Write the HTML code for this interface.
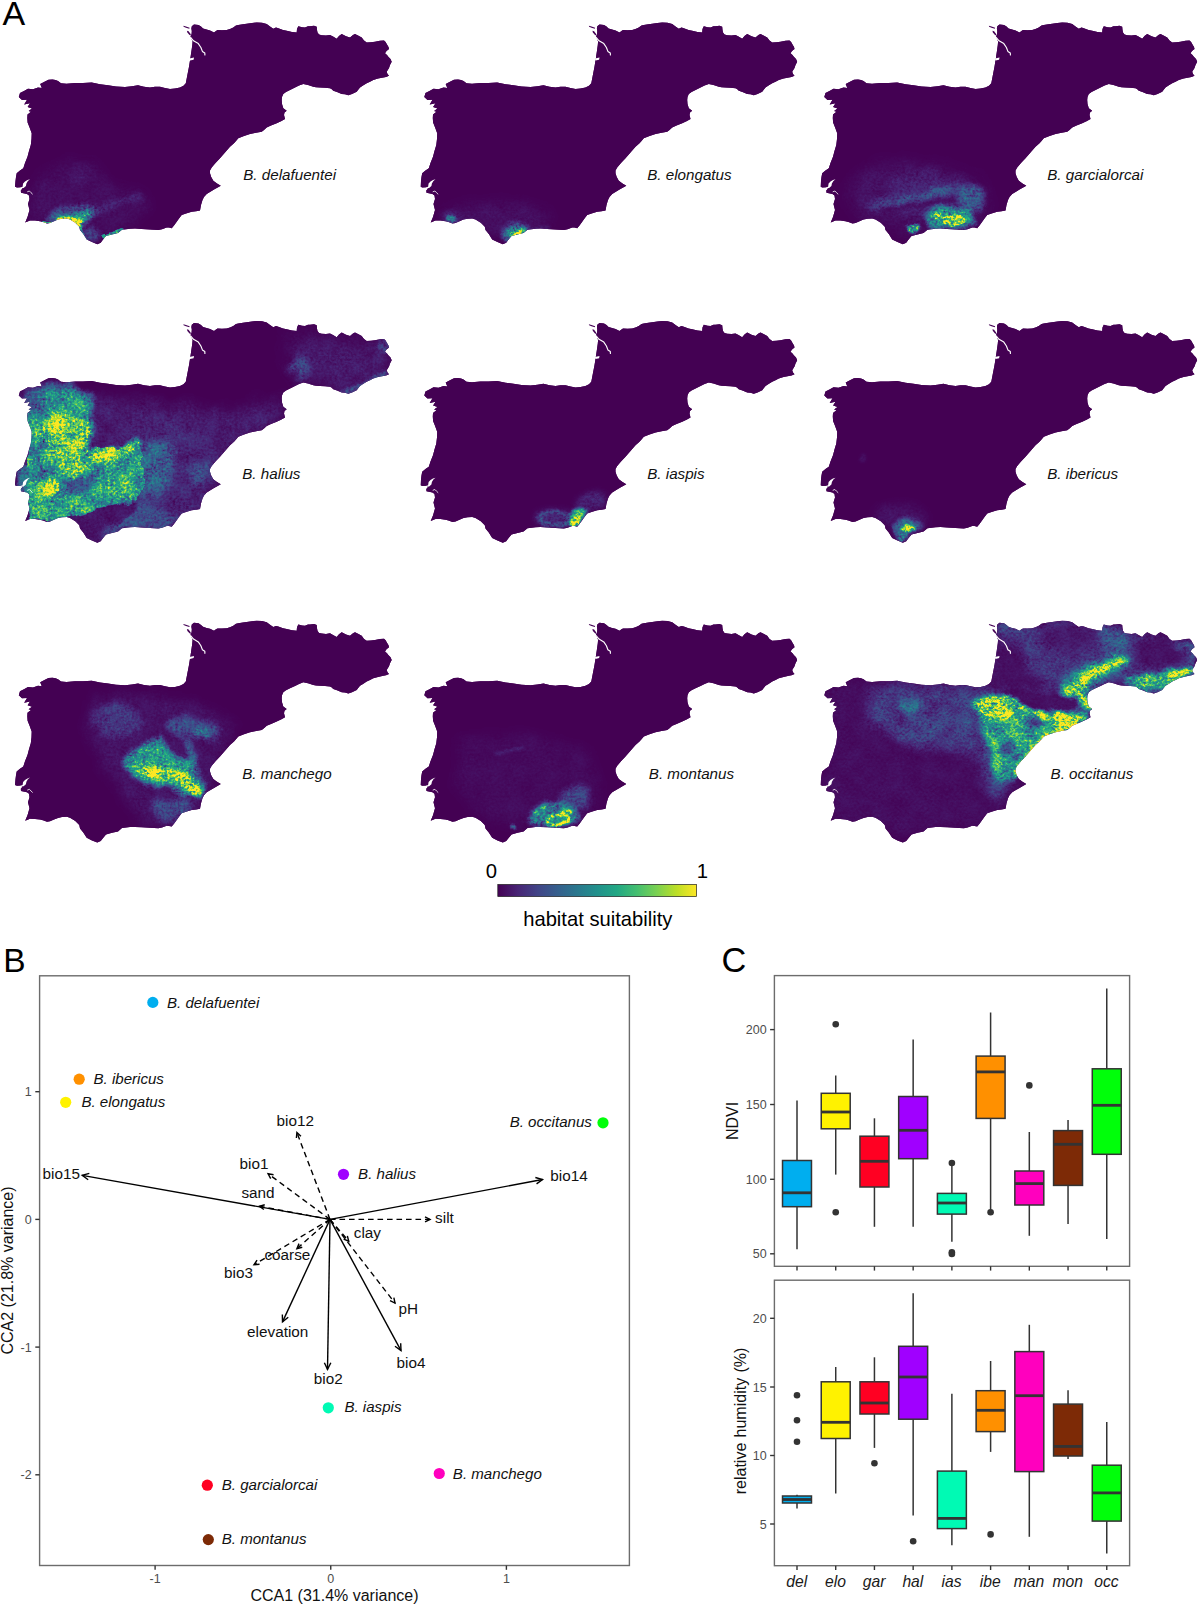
<!DOCTYPE html>
<html lang="en"><head><meta charset="utf-8"><title>Figure: habitat suitability, CCA and boxplots</title>
<style>html,body{margin:0;padding:0;background:#fff}svg{display:block}text{font-family:"Liberation Sans", Arial, Helvetica, sans-serif}</style>
</head><body>
<svg width="1200" height="1606" viewBox="0 0 1200 1606">
<rect width="1200" height="1606" fill="#fff"/>
<defs>
<clipPath id="ib"><polygon points="191.4,28.4 191.8,26.2 194,24.5 198.5,25 201,26.6 203,28.5 206.5,29.6 210,30.5 214,32.4 216,31 217.5,30.1 222,30.2 226.7,30 230,29 233.3,27.5 236,25.4 238.3,25 243,24.2 246.7,23.7 252,23 256.7,22.5 262,22.8 266.7,24 270,26.5 273.3,28.7 276,27.6 278.3,28.3 283,30 286.7,30.8 292,32 296.7,32.5 297,29 298.3,26.3 302,27.3 305,27.5 308,26.2 310,26.3 314,25.8 316.7,26.7 317,30 317.5,32.5 319,34.6 321.7,35.3 326,35.6 330,35 333,36.6 336.7,38.7 339,36 341.7,34 346,36.2 350,37.5 353,35 355,34 358,35.4 361.7,37.5 364,40.6 366.7,42.5 371,42.3 375,41.7 380,40.8 384,40.5 385.6,42 386.7,44 388.5,47 389,49 386.5,51 385,53.3 387,55 388.3,56.7 390.5,59 391.7,61.7 390,65 389,68 386.7,71.7 387.5,74 389,75.8 386,77 383.3,77.5 378,78.6 373.3,80 370,81.8 366.7,83.3 363,85.6 360,87.5 358,90 356.7,91.7 352,94 348.3,95.3 345,94.2 341.7,94 337,92 333.3,90.8 331.5,89 330,88.3 325,87.7 320,87.5 316,87.3 313.3,86.7 308,85 303.3,84 299,85.6 295,87.6 290,90 286,92 283.3,94 282,97 281.7,100 282,104 283.3,108.3 286.7,110.8 284.5,112.5 284,115 285,119 281,121.3 276.7,123.3 271,125.6 266.7,127.5 264,130 261.7,131.7 256,132.8 250,134 244,136 238.3,138.3 236,141 234,143.3 232,145 230,146.7 225,152.5 220,158.3 215.5,163 211.7,167.5 210,170.5 210,173.3 211.2,177 213.3,180.8 217,183.5 220.8,185.8 214,189.6 206.7,194 204,197 202.5,200 201,205 200,210.5 196,211.3 191.7,211.7 186,213.5 181.7,215 179,218.5 176.7,221.7 174,225.5 171.7,228.3 169,227.6 166.7,227.5 162,229.2 158.3,230 150,229.4 141.7,229 135,228.6 130,228.7 122,229.7 118,233.1 112,234.4 106,236.1 102.7,240.1 100.7,242.7 97.3,244.2 92,242.1 86.7,239.4 83.3,234.1 80,230.1 79.3,226.7 75.3,222.7 70,219.4 66.7,218.4 62,218.8 58,219.6 54,221.2 50,223 47,223.5 43,222 40,221.2 35,220.6 30,220.5 25.2,222.5 27.5,217 29.5,210 28.5,206 28,204 29.5,199 29,195.5 27,194 21,192.8 20.8,190.5 22.5,188.5 21,187.3 17,187.5 15,186.7 15.5,181 16,177 16.7,173.3 20,170.5 23.3,168.3 25,163 27.5,156.7 29,151 30.8,145 31.5,139 31.7,133.3 29.6,127.5 27.6,122.5 27.3,118 27.5,114.5 31,111.8 28.6,111 32,108.4 27.6,107 30,103.3 24.2,104.4 27,99.8 22,100 18.8,97 20,93 24,91 28,88.8 33,89.2 38,87.5 41.8,88 40.2,84 45,81.5 48.5,79.8 52.5,79.5 55.5,80 58,81 61,83.3 66.5,83.8 75,83 83,82.9 91.7,82.5 100,84.2 108,85.3 116,86.5 125,87 132,86.3 138,85.3 144,86.8 150,87.5 155,86.8 160,86.7 165,88 170,89 175,88.6 180,87.5 183.5,85.8 185.8,83.3 187.2,76 189,66.7 190.4,58 191.6,50 192.3,45 192.6,41.5 191.4,38.6 190.4,37 191.6,34 191.8,31"/></clipPath>
<filter id="b0_6" filterUnits="userSpaceOnUse" x="-20" y="-20" width="440" height="300" color-interpolation-filters="sRGB"><feGaussianBlur stdDeviation="0.6"/></filter>
<filter id="b0_8" filterUnits="userSpaceOnUse" x="-20" y="-20" width="440" height="300" color-interpolation-filters="sRGB"><feGaussianBlur stdDeviation="0.8"/></filter>
<filter id="b0_9" filterUnits="userSpaceOnUse" x="-20" y="-20" width="440" height="300" color-interpolation-filters="sRGB"><feGaussianBlur stdDeviation="0.9"/></filter>
<filter id="b1" filterUnits="userSpaceOnUse" x="-20" y="-20" width="440" height="300" color-interpolation-filters="sRGB"><feGaussianBlur stdDeviation="1"/></filter>
<filter id="b1_2" filterUnits="userSpaceOnUse" x="-20" y="-20" width="440" height="300" color-interpolation-filters="sRGB"><feGaussianBlur stdDeviation="1.2"/></filter>
<filter id="b1_3" filterUnits="userSpaceOnUse" x="-20" y="-20" width="440" height="300" color-interpolation-filters="sRGB"><feGaussianBlur stdDeviation="1.3"/></filter>
<filter id="b1_5" filterUnits="userSpaceOnUse" x="-20" y="-20" width="440" height="300" color-interpolation-filters="sRGB"><feGaussianBlur stdDeviation="1.5"/></filter>
<filter id="b1_6" filterUnits="userSpaceOnUse" x="-20" y="-20" width="440" height="300" color-interpolation-filters="sRGB"><feGaussianBlur stdDeviation="1.6"/></filter>
<filter id="b1_8" filterUnits="userSpaceOnUse" x="-20" y="-20" width="440" height="300" color-interpolation-filters="sRGB"><feGaussianBlur stdDeviation="1.8"/></filter>
<filter id="b2" filterUnits="userSpaceOnUse" x="-20" y="-20" width="440" height="300" color-interpolation-filters="sRGB"><feGaussianBlur stdDeviation="2"/></filter>
<filter id="b2_5" filterUnits="userSpaceOnUse" x="-20" y="-20" width="440" height="300" color-interpolation-filters="sRGB"><feGaussianBlur stdDeviation="2.5"/></filter>
<filter id="b3" filterUnits="userSpaceOnUse" x="-20" y="-20" width="440" height="300" color-interpolation-filters="sRGB"><feGaussianBlur stdDeviation="3"/></filter>
<filter id="b4" filterUnits="userSpaceOnUse" x="-20" y="-20" width="440" height="300" color-interpolation-filters="sRGB"><feGaussianBlur stdDeviation="4"/></filter>
<filter id="b5" filterUnits="userSpaceOnUse" x="-20" y="-20" width="440" height="300" color-interpolation-filters="sRGB"><feGaussianBlur stdDeviation="5"/></filter>
<filter id="b6" filterUnits="userSpaceOnUse" x="-20" y="-20" width="440" height="300" color-interpolation-filters="sRGB"><feGaussianBlur stdDeviation="6"/></filter>
<filter id="b8" filterUnits="userSpaceOnUse" x="-20" y="-20" width="440" height="300" color-interpolation-filters="sRGB"><feGaussianBlur stdDeviation="8"/></filter>
<filter id="hf0" filterUnits="userSpaceOnUse" x="0" y="0" width="400" height="260" color-interpolation-filters="sRGB">
<feGaussianBlur in="SourceGraphic" stdDeviation="0.4" result="g0"/>
<feTurbulence type="fractalNoise" baseFrequency="0.045" numOctaves="3" seed="10" result="td"/>
<feDisplacementMap in="g0" in2="td" scale="5" xChannelSelector="R" yChannelSelector="G" result="g"/>
<feTurbulence type="fractalNoise" baseFrequency="0.06" numOctaves="3" seed="3" result="t1"/>
<feTurbulence type="fractalNoise" baseFrequency="0.37 0.43" numOctaves="2" seed="53" result="t2"/>
<feComposite in="t1" in2="t2" operator="arithmetic" k1="0" k2="0.45" k3="0.55" k4="0" result="t"/>
<feColorMatrix in="t" type="matrix" values="1 0 0 0 0  1 0 0 0 0  1 0 0 0 0  0 0 0 0 1" result="n"/>
<feComposite in="g" in2="n" operator="arithmetic" k1="3" k2="-0.5" k3="0" k4="0" result="m"/>
<feComponentTransfer in="m"><feFuncR type="table" tableValues="0.267 0.282 0.255 0.208 0.165 0.129 0.133 0.267 0.478 0.741 0.992"/><feFuncG type="table" tableValues="0.004 0.141 0.267 0.373 0.471 0.569 0.659 0.749 0.820 0.875 0.906"/><feFuncB type="table" tableValues="0.329 0.459 0.529 0.553 0.557 0.549 0.518 0.439 0.318 0.149 0.145"/></feComponentTransfer>
</filter>
<filter id="hf1" filterUnits="userSpaceOnUse" x="0" y="0" width="400" height="260" color-interpolation-filters="sRGB">
<feGaussianBlur in="SourceGraphic" stdDeviation="0.4" result="g0"/>
<feTurbulence type="fractalNoise" baseFrequency="0.045" numOctaves="3" seed="12" result="td"/>
<feDisplacementMap in="g0" in2="td" scale="5" xChannelSelector="R" yChannelSelector="G" result="g"/>
<feTurbulence type="fractalNoise" baseFrequency="0.06" numOctaves="3" seed="5" result="t1"/>
<feTurbulence type="fractalNoise" baseFrequency="0.37 0.43" numOctaves="2" seed="55" result="t2"/>
<feComposite in="t1" in2="t2" operator="arithmetic" k1="0" k2="0.45" k3="0.55" k4="0" result="t"/>
<feColorMatrix in="t" type="matrix" values="1 0 0 0 0  1 0 0 0 0  1 0 0 0 0  0 0 0 0 1" result="n"/>
<feComposite in="g" in2="n" operator="arithmetic" k1="3" k2="-0.5" k3="0" k4="0" result="m"/>
<feComponentTransfer in="m"><feFuncR type="table" tableValues="0.267 0.282 0.255 0.208 0.165 0.129 0.133 0.267 0.478 0.741 0.992"/><feFuncG type="table" tableValues="0.004 0.141 0.267 0.373 0.471 0.569 0.659 0.749 0.820 0.875 0.906"/><feFuncB type="table" tableValues="0.329 0.459 0.529 0.553 0.557 0.549 0.518 0.439 0.318 0.149 0.145"/></feComponentTransfer>
</filter>
<filter id="hf2" filterUnits="userSpaceOnUse" x="0" y="0" width="400" height="260" color-interpolation-filters="sRGB">
<feGaussianBlur in="SourceGraphic" stdDeviation="0.4" result="g0"/>
<feTurbulence type="fractalNoise" baseFrequency="0.045" numOctaves="3" seed="14" result="td"/>
<feDisplacementMap in="g0" in2="td" scale="9" xChannelSelector="R" yChannelSelector="G" result="g"/>
<feTurbulence type="fractalNoise" baseFrequency="0.06" numOctaves="3" seed="7" result="t1"/>
<feTurbulence type="fractalNoise" baseFrequency="0.37 0.43" numOctaves="2" seed="57" result="t2"/>
<feComposite in="t1" in2="t2" operator="arithmetic" k1="0" k2="0.45" k3="0.55" k4="0" result="t"/>
<feColorMatrix in="t" type="matrix" values="1 0 0 0 0  1 0 0 0 0  1 0 0 0 0  0 0 0 0 1" result="n"/>
<feComposite in="g" in2="n" operator="arithmetic" k1="3" k2="-0.5" k3="0" k4="0" result="m"/>
<feComponentTransfer in="m"><feFuncR type="table" tableValues="0.267 0.282 0.255 0.208 0.165 0.129 0.133 0.267 0.478 0.741 0.992"/><feFuncG type="table" tableValues="0.004 0.141 0.267 0.373 0.471 0.569 0.659 0.749 0.820 0.875 0.906"/><feFuncB type="table" tableValues="0.329 0.459 0.529 0.553 0.557 0.549 0.518 0.439 0.318 0.149 0.145"/></feComponentTransfer>
</filter>
<filter id="hf3" filterUnits="userSpaceOnUse" x="0" y="0" width="400" height="260" color-interpolation-filters="sRGB">
<feGaussianBlur in="SourceGraphic" stdDeviation="0.4" result="g0"/>
<feTurbulence type="fractalNoise" baseFrequency="0.045" numOctaves="3" seed="18" result="td"/>
<feDisplacementMap in="g0" in2="td" scale="14" xChannelSelector="R" yChannelSelector="G" result="g"/>
<feTurbulence type="fractalNoise" baseFrequency="0.06" numOctaves="3" seed="11" result="t1"/>
<feTurbulence type="fractalNoise" baseFrequency="0.37 0.43" numOctaves="2" seed="61" result="t2"/>
<feComposite in="t1" in2="t2" operator="arithmetic" k1="0" k2="0.45" k3="0.55" k4="0" result="t"/>
<feColorMatrix in="t" type="matrix" values="1 0 0 0 0  1 0 0 0 0  1 0 0 0 0  0 0 0 0 1" result="n"/>
<feComposite in="g" in2="n" operator="arithmetic" k1="3" k2="-0.5" k3="0" k4="0" result="m"/>
<feComponentTransfer in="m"><feFuncR type="table" tableValues="0.267 0.282 0.255 0.208 0.165 0.129 0.133 0.267 0.478 0.741 0.992"/><feFuncG type="table" tableValues="0.004 0.141 0.267 0.373 0.471 0.569 0.659 0.749 0.820 0.875 0.906"/><feFuncB type="table" tableValues="0.329 0.459 0.529 0.553 0.557 0.549 0.518 0.439 0.318 0.149 0.145"/></feComponentTransfer>
</filter>
<filter id="hf4" filterUnits="userSpaceOnUse" x="0" y="0" width="400" height="260" color-interpolation-filters="sRGB">
<feGaussianBlur in="SourceGraphic" stdDeviation="0.4" result="g0"/>
<feTurbulence type="fractalNoise" baseFrequency="0.045" numOctaves="3" seed="20" result="td"/>
<feDisplacementMap in="g0" in2="td" scale="4" xChannelSelector="R" yChannelSelector="G" result="g"/>
<feTurbulence type="fractalNoise" baseFrequency="0.06" numOctaves="3" seed="13" result="t1"/>
<feTurbulence type="fractalNoise" baseFrequency="0.37 0.43" numOctaves="2" seed="63" result="t2"/>
<feComposite in="t1" in2="t2" operator="arithmetic" k1="0" k2="0.45" k3="0.55" k4="0" result="t"/>
<feColorMatrix in="t" type="matrix" values="1 0 0 0 0  1 0 0 0 0  1 0 0 0 0  0 0 0 0 1" result="n"/>
<feComposite in="g" in2="n" operator="arithmetic" k1="3" k2="-0.5" k3="0" k4="0" result="m"/>
<feComponentTransfer in="m"><feFuncR type="table" tableValues="0.267 0.282 0.255 0.208 0.165 0.129 0.133 0.267 0.478 0.741 0.992"/><feFuncG type="table" tableValues="0.004 0.141 0.267 0.373 0.471 0.569 0.659 0.749 0.820 0.875 0.906"/><feFuncB type="table" tableValues="0.329 0.459 0.529 0.553 0.557 0.549 0.518 0.439 0.318 0.149 0.145"/></feComponentTransfer>
</filter>
<filter id="hf5" filterUnits="userSpaceOnUse" x="0" y="0" width="400" height="260" color-interpolation-filters="sRGB">
<feGaussianBlur in="SourceGraphic" stdDeviation="0.4" result="g0"/>
<feTurbulence type="fractalNoise" baseFrequency="0.045" numOctaves="3" seed="24" result="td"/>
<feDisplacementMap in="g0" in2="td" scale="4" xChannelSelector="R" yChannelSelector="G" result="g"/>
<feTurbulence type="fractalNoise" baseFrequency="0.06" numOctaves="3" seed="17" result="t1"/>
<feTurbulence type="fractalNoise" baseFrequency="0.37 0.43" numOctaves="2" seed="67" result="t2"/>
<feComposite in="t1" in2="t2" operator="arithmetic" k1="0" k2="0.45" k3="0.55" k4="0" result="t"/>
<feColorMatrix in="t" type="matrix" values="1 0 0 0 0  1 0 0 0 0  1 0 0 0 0  0 0 0 0 1" result="n"/>
<feComposite in="g" in2="n" operator="arithmetic" k1="3" k2="-0.5" k3="0" k4="0" result="m"/>
<feComponentTransfer in="m"><feFuncR type="table" tableValues="0.267 0.282 0.255 0.208 0.165 0.129 0.133 0.267 0.478 0.741 0.992"/><feFuncG type="table" tableValues="0.004 0.141 0.267 0.373 0.471 0.569 0.659 0.749 0.820 0.875 0.906"/><feFuncB type="table" tableValues="0.329 0.459 0.529 0.553 0.557 0.549 0.518 0.439 0.318 0.149 0.145"/></feComponentTransfer>
</filter>
<filter id="hf6" filterUnits="userSpaceOnUse" x="0" y="0" width="400" height="260" color-interpolation-filters="sRGB">
<feGaussianBlur in="SourceGraphic" stdDeviation="0.4" result="g0"/>
<feTurbulence type="fractalNoise" baseFrequency="0.045" numOctaves="3" seed="26" result="td"/>
<feDisplacementMap in="g0" in2="td" scale="12" xChannelSelector="R" yChannelSelector="G" result="g"/>
<feTurbulence type="fractalNoise" baseFrequency="0.06" numOctaves="3" seed="19" result="t1"/>
<feTurbulence type="fractalNoise" baseFrequency="0.37 0.43" numOctaves="2" seed="69" result="t2"/>
<feComposite in="t1" in2="t2" operator="arithmetic" k1="0" k2="0.45" k3="0.55" k4="0" result="t"/>
<feColorMatrix in="t" type="matrix" values="1 0 0 0 0  1 0 0 0 0  1 0 0 0 0  0 0 0 0 1" result="n"/>
<feComposite in="g" in2="n" operator="arithmetic" k1="3" k2="-0.5" k3="0" k4="0" result="m"/>
<feComponentTransfer in="m"><feFuncR type="table" tableValues="0.267 0.282 0.255 0.208 0.165 0.129 0.133 0.267 0.478 0.741 0.992"/><feFuncG type="table" tableValues="0.004 0.141 0.267 0.373 0.471 0.569 0.659 0.749 0.820 0.875 0.906"/><feFuncB type="table" tableValues="0.329 0.459 0.529 0.553 0.557 0.549 0.518 0.439 0.318 0.149 0.145"/></feComponentTransfer>
</filter>
<filter id="hf7" filterUnits="userSpaceOnUse" x="0" y="0" width="400" height="260" color-interpolation-filters="sRGB">
<feGaussianBlur in="SourceGraphic" stdDeviation="0.4" result="g0"/>
<feTurbulence type="fractalNoise" baseFrequency="0.045" numOctaves="3" seed="30" result="td"/>
<feDisplacementMap in="g0" in2="td" scale="5" xChannelSelector="R" yChannelSelector="G" result="g"/>
<feTurbulence type="fractalNoise" baseFrequency="0.06" numOctaves="3" seed="23" result="t1"/>
<feTurbulence type="fractalNoise" baseFrequency="0.37 0.43" numOctaves="2" seed="73" result="t2"/>
<feComposite in="t1" in2="t2" operator="arithmetic" k1="0" k2="0.45" k3="0.55" k4="0" result="t"/>
<feColorMatrix in="t" type="matrix" values="1 0 0 0 0  1 0 0 0 0  1 0 0 0 0  0 0 0 0 1" result="n"/>
<feComposite in="g" in2="n" operator="arithmetic" k1="3" k2="-0.5" k3="0" k4="0" result="m"/>
<feComponentTransfer in="m"><feFuncR type="table" tableValues="0.267 0.282 0.255 0.208 0.165 0.129 0.133 0.267 0.478 0.741 0.992"/><feFuncG type="table" tableValues="0.004 0.141 0.267 0.373 0.471 0.569 0.659 0.749 0.820 0.875 0.906"/><feFuncB type="table" tableValues="0.329 0.459 0.529 0.553 0.557 0.549 0.518 0.439 0.318 0.149 0.145"/></feComponentTransfer>
</filter>
<filter id="hf8" filterUnits="userSpaceOnUse" x="0" y="0" width="400" height="260" color-interpolation-filters="sRGB">
<feGaussianBlur in="SourceGraphic" stdDeviation="0.4" result="g0"/>
<feTurbulence type="fractalNoise" baseFrequency="0.045" numOctaves="3" seed="36" result="td"/>
<feDisplacementMap in="g0" in2="td" scale="10" xChannelSelector="R" yChannelSelector="G" result="g"/>
<feTurbulence type="fractalNoise" baseFrequency="0.06" numOctaves="3" seed="29" result="t1"/>
<feTurbulence type="fractalNoise" baseFrequency="0.37 0.43" numOctaves="2" seed="79" result="t2"/>
<feComposite in="t1" in2="t2" operator="arithmetic" k1="0" k2="0.45" k3="0.55" k4="0" result="t"/>
<feColorMatrix in="t" type="matrix" values="1 0 0 0 0  1 0 0 0 0  1 0 0 0 0  0 0 0 0 1" result="n"/>
<feComposite in="g" in2="n" operator="arithmetic" k1="3" k2="-0.5" k3="0" k4="0" result="m"/>
<feComponentTransfer in="m"><feFuncR type="table" tableValues="0.267 0.282 0.255 0.208 0.165 0.129 0.133 0.267 0.478 0.741 0.992"/><feFuncG type="table" tableValues="0.004 0.141 0.267 0.373 0.471 0.569 0.659 0.749 0.820 0.875 0.906"/><feFuncB type="table" tableValues="0.329 0.459 0.529 0.553 0.557 0.549 0.518 0.439 0.318 0.149 0.145"/></feComponentTransfer>
</filter>
<linearGradient id="vg" x1="0" x2="1" y1="0" y2="0">
<stop offset="0" stop-color="rgb(68,1,84)"/>
<stop offset="0.1" stop-color="rgb(72,36,117)"/>
<stop offset="0.2" stop-color="rgb(65,68,135)"/>
<stop offset="0.3" stop-color="rgb(53,95,141)"/>
<stop offset="0.4" stop-color="rgb(42,120,142)"/>
<stop offset="0.5" stop-color="rgb(33,145,140)"/>
<stop offset="0.6" stop-color="rgb(34,168,132)"/>
<stop offset="0.7" stop-color="rgb(68,191,112)"/>
<stop offset="0.8" stop-color="rgb(122,209,81)"/>
<stop offset="0.9" stop-color="rgb(189,223,38)"/>
<stop offset="1" stop-color="rgb(253,231,37)"/>
</linearGradient>
</defs>
<g transform="translate(0 0)">
<g clip-path="url(#ib)">
<rect x="10" y="18" width="386" height="230" fill="#440154"/>
<g filter="url(#hf0)">
<rect x="-10" y="-10" width="420" height="280" fill="#000"/>
<polygon points="30,200 40,175 70,160 95,165 110,185 143,193 150,205 125,228 100,240 85,236 60,222 30,222" fill="rgb(9,9,9)" filter="url(#b6)"/>
<g filter="url(#b4)"><ellipse cx="82" cy="176" rx="9" ry="10" fill="rgb(15,15,15)"/></g>
<polyline points="93,212 105,207 120,202 140,197" fill="none" stroke="rgb(28,28,28)" stroke-width="6" stroke-linecap="round" stroke-linejoin="round" filter="url(#b2_5)"/>
<g filter="url(#b2_5)"><ellipse cx="92" cy="234" rx="9" ry="7" fill="rgb(43,43,43)"/></g>
<polygon points="46,222 52,212 62,207 78,205 92,206 96,212 90,220 82,226 76,222 70,220 60,219.5 52,222.5" fill="rgb(76,76,76)" filter="url(#b2_5)"/>
<polygon points="55,220 62,214 75,212 88,210 92,214 84,220 80,225 76,222 70,219.5 62,218.8" fill="rgb(140,140,140)" filter="url(#b1_6)"/>
<polyline points="59,219.4 66,218.6 72,220 77,223 79.8,226.5" fill="none" stroke="rgb(255,255,255)" stroke-width="3.2" stroke-linecap="round" stroke-linejoin="round" filter="url(#b0_9)"/>
<g filter="url(#b0_8)"><ellipse cx="74.5" cy="220.8" rx="5.5" ry="2.8" fill="rgb(255,255,255)" transform="rotate(20 74.5 220.8)"/></g>
<polyline points="43,222 48,223.2 52,222.5" fill="none" stroke="rgb(230,230,230)" stroke-width="1.6" stroke-linecap="round" stroke-linejoin="round" filter="url(#b0_6)"/>
<polyline points="80.5,228 83,234 86.5,239" fill="none" stroke="rgb(102,102,102)" stroke-width="2.2" stroke-linecap="round" stroke-linejoin="round" filter="url(#b1_0)"/>
<polyline points="105,237.5 113,234.6 121,232" fill="none" stroke="rgb(128,128,128)" stroke-width="3.6" stroke-linecap="round" stroke-linejoin="round" filter="url(#b1_0)"/>
</g>
</g>
<polyline points="190.6,37.4 193.5,40.8 198.3,43.6 200.9,47.5 202.4,51.4 204.8,53 204.9,55" fill="none" stroke="#fff" stroke-width="1.15" stroke-linecap="round" stroke-linejoin="round"/>
<polygon points="183.4,25.8 186,26.4 189.6,27.8 189.3,28.7 186,27.7 183.6,26.7" fill="#440154"/>
<polygon points="186.9,30.8 188.6,31.2 190.6,34 190.9,35.6 189.5,35 187.4,32.6" fill="#440154"/>
<polygon points="189.4,58.6 194,57.6 193.6,59.8 190,60.6" fill="#fff"/>
<polygon points="20.4,187.5 22.6,186.7 23.1,183.6 25,181.6 27.5,180.1 30,179.2 27.9,181 26.4,183.4 25.9,186 23.6,187.9 21,188.3" fill="#fff"/>
<polyline points="27.6,191.7 29.4,191 31,192.7 32.4,194" fill="none" stroke="#fff" stroke-width="0.8" stroke-linecap="round" stroke-linejoin="round"/>
</g>
<text x="243.2" y="180.2" font-size="15.2" font-style="italic" fill="#111">B. delafuentei</text>
<g transform="translate(405.5 0)">
<g clip-path="url(#ib)">
<rect x="10" y="18" width="386" height="230" fill="#440154"/>
<g filter="url(#hf1)">
<rect x="-10" y="-10" width="420" height="280" fill="#000"/>
<g filter="url(#b6)"><ellipse cx="90" cy="218" rx="55" ry="16" fill="rgb(10,10,10)"/></g>
<g filter="url(#b3)"><ellipse cx="46" cy="218" rx="10" ry="5" fill="rgb(31,31,31)" transform="rotate(10 46 218)"/></g>
<g filter="url(#b1_5)"><ellipse cx="46" cy="219" rx="5.5" ry="2.8" fill="rgb(107,107,107)" transform="rotate(10 46 219)"/></g>
<polyline points="118,231 130,229 142,228.5" fill="none" stroke="rgb(31,31,31)" stroke-width="3" stroke-linecap="round" stroke-linejoin="round" filter="url(#b2)"/>
<g filter="url(#b2_5)"><ellipse cx="109.5" cy="231" rx="13.5" ry="8.5" fill="rgb(64,64,64)" transform="rotate(-15 109.5 231)"/></g>
<g filter="url(#b1_5)"><ellipse cx="110" cy="231.5" rx="10" ry="5.5" fill="rgb(140,140,140)" transform="rotate(-20 110 231.5)"/></g>
<g filter="url(#b0_9)"><ellipse cx="111" cy="232.2" rx="7" ry="3.2" fill="rgb(230,230,230)" transform="rotate(-20 111 232.2)"/></g>
<g filter="url(#b1_5)"><ellipse cx="102" cy="238" rx="3" ry="3.5" fill="rgb(76,76,76)"/></g>
</g>
</g>
<polyline points="190.6,37.4 193.5,40.8 198.3,43.6 200.9,47.5 202.4,51.4 204.8,53 204.9,55" fill="none" stroke="#fff" stroke-width="1.15" stroke-linecap="round" stroke-linejoin="round"/>
<polygon points="183.4,25.8 186,26.4 189.6,27.8 189.3,28.7 186,27.7 183.6,26.7" fill="#440154"/>
<polygon points="186.9,30.8 188.6,31.2 190.6,34 190.9,35.6 189.5,35 187.4,32.6" fill="#440154"/>
<polygon points="189.4,58.6 194,57.6 193.6,59.8 190,60.6" fill="#fff"/>
<polygon points="20.4,187.5 22.6,186.7 23.1,183.6 25,181.6 27.5,180.1 30,179.2 27.9,181 26.4,183.4 25.9,186 23.6,187.9 21,188.3" fill="#fff"/>
<polyline points="27.6,191.7 29.4,191 31,192.7 32.4,194" fill="none" stroke="#fff" stroke-width="0.8" stroke-linecap="round" stroke-linejoin="round"/>
</g>
<text x="647.2" y="180.2" font-size="15.2" font-style="italic" fill="#111">B. elongatus</text>
<g transform="translate(805.5 0)">
<g clip-path="url(#ib)">
<rect x="10" y="18" width="386" height="230" fill="#440154"/>
<g filter="url(#hf2)">
<rect x="-10" y="-10" width="420" height="280" fill="#000"/>
<polygon points="50,180 66,168 100,164 140,170 172,182 182,200 176,222 150,229 120,228 100,232 80,222 56,216 46,200" fill="rgb(14,14,14)" filter="url(#b8)"/>
<polygon points="90,180 130,175 165,184 170,205 140,215 100,212 84,200" fill="rgb(26,26,26)" filter="url(#b6)"/>
<polyline points="70,206 95,201 120,196 150,188" fill="none" stroke="rgb(43,43,43)" stroke-width="10" stroke-linecap="round" stroke-linejoin="round" filter="url(#b3)"/>
<polyline points="95,200 120,195 145,189" fill="none" stroke="rgb(69,69,69)" stroke-width="4" stroke-linecap="round" stroke-linejoin="round" filter="url(#b2)"/>
<polyline points="78,213 110,206 148,198" fill="none" stroke="rgb(8,8,8)" stroke-width="4.5" stroke-linecap="round" stroke-linejoin="round" filter="url(#b1_5)"/>
<polygon points="150,196 158,186 170,183 178,192 178,208 168,212 156,208" fill="rgb(66,66,66)" filter="url(#b2_5)"/>
<polygon points="119,215 127,207 140,205 153,207 166,211 170,222 162,228 140,228 124,227" fill="rgb(133,133,133)" filter="url(#b2)"/>
<polygon points="137,217 143,213 152,214 159,218 160,224 148,227 138,223" fill="rgb(224,224,224)" filter="url(#b1_4)"/>
<g filter="url(#b1_2)"><ellipse cx="130" cy="215" rx="5" ry="3.5" fill="rgb(217,217,217)"/></g>
<g filter="url(#b1_3)"><ellipse cx="107" cy="228" rx="5.5" ry="3.5" fill="rgb(209,209,209)" transform="rotate(-15 107 228)"/></g>
</g>
</g>
<polyline points="190.6,37.4 193.5,40.8 198.3,43.6 200.9,47.5 202.4,51.4 204.8,53 204.9,55" fill="none" stroke="#fff" stroke-width="1.15" stroke-linecap="round" stroke-linejoin="round"/>
<polygon points="183.4,25.8 186,26.4 189.6,27.8 189.3,28.7 186,27.7 183.6,26.7" fill="#440154"/>
<polygon points="186.9,30.8 188.6,31.2 190.6,34 190.9,35.6 189.5,35 187.4,32.6" fill="#440154"/>
<polygon points="189.4,58.6 194,57.6 193.6,59.8 190,60.6" fill="#fff"/>
<polygon points="20.4,187.5 22.6,186.7 23.1,183.6 25,181.6 27.5,180.1 30,179.2 27.9,181 26.4,183.4 25.9,186 23.6,187.9 21,188.3" fill="#fff"/>
<polyline points="27.6,191.7 29.4,191 31,192.7 32.4,194" fill="none" stroke="#fff" stroke-width="0.8" stroke-linecap="round" stroke-linejoin="round"/>
</g>
<text x="1047.2" y="180.2" font-size="15.2" font-style="italic" fill="#111">B. garcialorcai</text>
<g transform="translate(0 298.5)">
<g clip-path="url(#ib)">
<rect x="10" y="18" width="386" height="230" fill="#440154"/>
<g filter="url(#hf3)">
<rect x="-10" y="-10" width="420" height="280" fill="#000"/>
<polygon points="18,100 60,95 100,100 160,105 230,112 284,100 286,120 240,140 222,186 200,212 172,230 120,232 98,245 80,230 24,223 14,186 28,150" fill="rgb(19,19,19)" filter="url(#b6)"/>
<polygon points="120,125 150,118 190,125 215,150 212,180 200,205 175,225 140,228 125,215 140,190 140,160" fill="rgb(26,26,26)" filter="url(#b6)"/>
<g filter="url(#b4)"><ellipse cx="200" cy="175" rx="12" ry="14" fill="rgb(51,51,51)"/></g>
<polygon points="137,150 160,140 175,150 172,180 160,198 140,200" fill="rgb(76,76,76)" filter="url(#b4)"/>
<polygon points="290,40 320,38 350,45 388,42 392,62 388,76 350,95 330,90 304,84 292,70" fill="rgb(18,18,18)" filter="url(#b8)"/>
<g filter="url(#b3)"><ellipse cx="300" cy="68" rx="11" ry="9" fill="rgb(51,51,51)" transform="rotate(-40 300 68)"/></g>
<polyline points="342,92 356,90 372,82 388,74" fill="none" stroke="rgb(76,76,76)" stroke-width="4" stroke-linecap="round" stroke-linejoin="round" filter="url(#b2)"/>
<g filter="url(#b2_5)"><ellipse cx="384" cy="48" rx="6" ry="7" fill="rgb(51,51,51)"/></g>
<polygon points="19,96 40,86 58,82 75,84 80,96 60,104 35,108 26,104" fill="rgb(76,76,76)" filter="url(#b3)"/>
<polygon points="30,108 45,98 70,92 88,96 93,110 93,125 70,122 45,122 32,120" fill="rgb(128,128,128)" filter="url(#b3)"/>
<polygon points="28,150 40,148 60,156 88,152 100,150 137,145 143,160 143,195 137,202 100,210 73,216 50,221 28,221 24,205 28,180" fill="rgb(140,140,140)" filter="url(#b3_5)"/>
<polygon points="27,116 38,116 40,154 27,154" fill="rgb(115,115,115)" filter="url(#b3)"/>
<polygon points="34,125 45,118 62,114 80,118 92,126 93,140 88,152 75,158 60,156 45,150 36,140" fill="rgb(204,204,204)" filter="url(#b3)"/>
<polygon points="16,172 26,165 32,170 30,190 22,192 15,186" fill="rgb(76,76,76)" filter="url(#b2)"/>
<polyline points="80,161 100,158 120,152 137,145" fill="none" stroke="rgb(194,194,194)" stroke-width="8" stroke-linecap="round" stroke-linejoin="round" filter="url(#b2)"/>
<polygon points="55,152 70,150 85,155 92,165 88,176 75,178 62,172" fill="rgb(184,184,184)" filter="url(#b2_5)"/>
<polygon points="63,180 80,176 97,180 95,192 80,196 66,192" fill="rgb(64,64,64)" filter="url(#b2_5)"/>
<g filter="url(#b2)"><ellipse cx="51" cy="190" rx="11" ry="8" fill="rgb(217,217,217)"/></g>
<polygon points="100,216 137,203 160,210 178,215 176,226 150,230 120,231 104,236" fill="rgb(56,56,56)" filter="url(#b3)"/>
<polygon points="73,217 137,201.5 140,210 120,222 100,232 92,243 82,232 78,223" fill="rgb(15,15,15)" filter="url(#b1_5)"/>
</g>
</g>
<polyline points="190.6,37.4 193.5,40.8 198.3,43.6 200.9,47.5 202.4,51.4 204.8,53 204.9,55" fill="none" stroke="#fff" stroke-width="1.15" stroke-linecap="round" stroke-linejoin="round"/>
<polygon points="183.4,25.8 186,26.4 189.6,27.8 189.3,28.7 186,27.7 183.6,26.7" fill="#440154"/>
<polygon points="186.9,30.8 188.6,31.2 190.6,34 190.9,35.6 189.5,35 187.4,32.6" fill="#440154"/>
<polygon points="189.4,58.6 194,57.6 193.6,59.8 190,60.6" fill="#fff"/>
<polygon points="20.4,187.5 22.6,186.7 23.1,183.6 25,181.6 27.5,180.1 30,179.2 27.9,181 26.4,183.4 25.9,186 23.6,187.9 21,188.3" fill="#fff"/>
<polyline points="27.6,191.7 29.4,191 31,192.7 32.4,194" fill="none" stroke="#fff" stroke-width="0.8" stroke-linecap="round" stroke-linejoin="round"/>
</g>
<text x="242.2" y="478.6" font-size="15.2" font-style="italic" fill="#111">B. halius</text>
<g transform="translate(405.5 298.5)">
<g clip-path="url(#ib)">
<rect x="10" y="18" width="386" height="230" fill="#440154"/>
<g filter="url(#hf4)">
<rect x="-10" y="-10" width="420" height="280" fill="#000"/>
<polygon points="168,212 175,198 190,192 200,196 198,208 185,213" fill="rgb(26,26,26)" filter="url(#b3)"/>
<g filter="url(#b3)"><ellipse cx="150" cy="220" rx="20" ry="9" fill="rgb(26,26,26)"/></g>
<polygon points="134,220 142,214 152,213 160,217 164,222 158,226 146,227 137,225" fill="none" stroke="rgb(71,71,71)" stroke-width="3" stroke-linejoin="round" filter="url(#b1_5)"/>
<polygon points="162,219 168,211 178,210 184,211 178,218 172,224" fill="rgb(153,153,153)" filter="url(#b1_5)"/>
<g filter="url(#b1)"><ellipse cx="169" cy="223" rx="6.5" ry="4" fill="rgb(242,242,242)" transform="rotate(-30 169 223)"/></g>
</g>
</g>
<polyline points="190.6,37.4 193.5,40.8 198.3,43.6 200.9,47.5 202.4,51.4 204.8,53 204.9,55" fill="none" stroke="#fff" stroke-width="1.15" stroke-linecap="round" stroke-linejoin="round"/>
<polygon points="183.4,25.8 186,26.4 189.6,27.8 189.3,28.7 186,27.7 183.6,26.7" fill="#440154"/>
<polygon points="186.9,30.8 188.6,31.2 190.6,34 190.9,35.6 189.5,35 187.4,32.6" fill="#440154"/>
<polygon points="189.4,58.6 194,57.6 193.6,59.8 190,60.6" fill="#fff"/>
<polygon points="20.4,187.5 22.6,186.7 23.1,183.6 25,181.6 27.5,180.1 30,179.2 27.9,181 26.4,183.4 25.9,186 23.6,187.9 21,188.3" fill="#fff"/>
<polyline points="27.6,191.7 29.4,191 31,192.7 32.4,194" fill="none" stroke="#fff" stroke-width="0.8" stroke-linecap="round" stroke-linejoin="round"/>
</g>
<text x="647.2" y="478.6" font-size="15.2" font-style="italic" fill="#111">B. iaspis</text>
<g transform="translate(805.5 298.5)">
<g clip-path="url(#ib)">
<rect x="10" y="18" width="386" height="230" fill="#440154"/>
<g filter="url(#hf5)">
<rect x="-10" y="-10" width="420" height="280" fill="#000"/>
<g filter="url(#b5)"><ellipse cx="95" cy="218" rx="26" ry="12" fill="rgb(13,13,13)"/></g>
<g filter="url(#b1_5)"><ellipse cx="57" cy="160" rx="3" ry="3" fill="rgb(20,20,20)"/></g>
<polygon points="88,228 96,220 106,220 118,226 112,232 104,236 101,242 94,241 90,235" fill="rgb(76,76,76)" filter="url(#b2)"/>
<polygon points="96,231 100,226 108,228 110,231 104,234 98,234" fill="rgb(224,224,224)" filter="url(#b1_2)"/>
<g filter="url(#b1_2)"><ellipse cx="97.5" cy="239" rx="3.5" ry="3.2" fill="rgb(115,115,115)"/></g>
</g>
</g>
<polyline points="190.6,37.4 193.5,40.8 198.3,43.6 200.9,47.5 202.4,51.4 204.8,53 204.9,55" fill="none" stroke="#fff" stroke-width="1.15" stroke-linecap="round" stroke-linejoin="round"/>
<polygon points="183.4,25.8 186,26.4 189.6,27.8 189.3,28.7 186,27.7 183.6,26.7" fill="#440154"/>
<polygon points="186.9,30.8 188.6,31.2 190.6,34 190.9,35.6 189.5,35 187.4,32.6" fill="#440154"/>
<polygon points="189.4,58.6 194,57.6 193.6,59.8 190,60.6" fill="#fff"/>
<polygon points="20.4,187.5 22.6,186.7 23.1,183.6 25,181.6 27.5,180.1 30,179.2 27.9,181 26.4,183.4 25.9,186 23.6,187.9 21,188.3" fill="#fff"/>
<polyline points="27.6,191.7 29.4,191 31,192.7 32.4,194" fill="none" stroke="#fff" stroke-width="0.8" stroke-linecap="round" stroke-linejoin="round"/>
</g>
<text x="1047.2" y="478.6" font-size="15.2" font-style="italic" fill="#111">B. ibericus</text>
<g transform="translate(0 598.3)">
<g clip-path="url(#ib)">
<rect x="10" y="18" width="386" height="230" fill="#440154"/>
<g filter="url(#hf6)">
<rect x="-10" y="-10" width="420" height="280" fill="#000"/>
<polygon points="90,100 140,96 200,105 232,128 224,150 215,170 212,190 198,212 172,228 145,226 125,200 105,170 88,135" fill="rgb(13,13,13)" filter="url(#b6)"/>
<polygon points="94,118 100,108 120,106 138,112 140,128 128,138 108,138 96,130" fill="rgb(38,38,38)" filter="url(#b3)"/>
<polygon points="166,122 185,118 205,122 222,132 218,141 200,140 180,138 168,132" fill="rgb(51,51,51)" filter="url(#b2_5)"/>
<g filter="url(#b2)"><ellipse cx="202" cy="134" rx="10" ry="4.5" fill="rgb(92,92,92)" transform="rotate(20 202 134)"/></g>
<polyline points="188,141 192,152 190,163" fill="none" stroke="rgb(76,76,76)" stroke-width="6" stroke-linecap="round" stroke-linejoin="round" filter="url(#b2)"/>
<polygon points="156,200 170,198 188,200 190,212 178,222 162,222 154,212" fill="rgb(51,51,51)" filter="url(#b3)"/>
<polygon points="121,162 137.5,148.4 160,141 172,154.4 187,162 196,172.4 205,187.4 199,196.4 181,196.4 167.5,187.4 154,190.4 136,181.4" fill="rgb(133,133,133)" filter="url(#b2_5)"/>
<g filter="url(#b2_5)"><ellipse cx="176" cy="151" rx="9" ry="7" fill="rgb(15,15,15)"/></g>
<g filter="url(#b2)"><ellipse cx="164" cy="195" rx="9" ry="7" fill="rgb(15,15,15)"/></g>
<polyline points="143,170 155,174 170,176 182,180 192,188 199,193" fill="none" stroke="rgb(199,199,199)" stroke-width="11" stroke-linecap="round" stroke-linejoin="round" filter="url(#b2_5)"/>
<g filter="url(#b2)"><ellipse cx="152" cy="172" rx="9" ry="5" fill="rgb(224,224,224)" transform="rotate(15 152 172)"/></g>
<g filter="url(#b2)"><ellipse cx="180" cy="177" rx="10" ry="5" fill="rgb(224,224,224)" transform="rotate(10 180 177)"/></g>
<g filter="url(#b2)"><ellipse cx="192" cy="189" rx="10" ry="6" fill="rgb(235,235,235)" transform="rotate(30 192 189)"/></g>
</g>
</g>
<polyline points="190.6,37.4 193.5,40.8 198.3,43.6 200.9,47.5 202.4,51.4 204.8,53 204.9,55" fill="none" stroke="#fff" stroke-width="1.15" stroke-linecap="round" stroke-linejoin="round"/>
<polygon points="183.4,25.8 186,26.4 189.6,27.8 189.3,28.7 186,27.7 183.6,26.7" fill="#440154"/>
<polygon points="186.9,30.8 188.6,31.2 190.6,34 190.9,35.6 189.5,35 187.4,32.6" fill="#440154"/>
<polygon points="189.4,58.6 194,57.6 193.6,59.8 190,60.6" fill="#fff"/>
<polygon points="20.4,187.5 22.6,186.7 23.1,183.6 25,181.6 27.5,180.1 30,179.2 27.9,181 26.4,183.4 25.9,186 23.6,187.9 21,188.3" fill="#fff"/>
<polyline points="27.6,191.7 29.4,191 31,192.7 32.4,194" fill="none" stroke="#fff" stroke-width="0.8" stroke-linecap="round" stroke-linejoin="round"/>
</g>
<text x="242.2" y="779" font-size="15.2" font-style="italic" fill="#111">B. manchego</text>
<g transform="translate(405.5 598.3)">
<g clip-path="url(#ib)">
<rect x="10" y="18" width="386" height="230" fill="#440154"/>
<g filter="url(#hf7)">
<rect x="-10" y="-10" width="420" height="280" fill="#000"/>
<polygon points="55,140 120,135 180,150 196,190 185,225 130,232 80,222 50,190" fill="rgb(7,7,7)" filter="url(#b6)"/>
<polyline points="91,155 104,152 117,149" fill="none" stroke="rgb(26,26,26)" stroke-width="3" stroke-linecap="round" stroke-linejoin="round" filter="url(#b1_5)"/>
<polygon points="152,206 160,192 172,187 183,192 182,206 172,212 160,212" fill="rgb(51,51,51)" filter="url(#b3)"/>
<polygon points="122,222 128,210 140,204 156,204 170,210 175,220 168,227 140,228 126,227" fill="rgb(102,102,102)" filter="url(#b2)"/>
<polygon points="141,221 146,217 154,216 162,218 166,222 160,225 150,226 143,225" fill="none" stroke="rgb(247,247,247)" stroke-width="2.6" stroke-linejoin="round" filter="url(#b0_9)"/>
<polyline points="153,213.5 160,212.5 166,214.5" fill="none" stroke="rgb(230,230,230)" stroke-width="2.4" stroke-linecap="round" stroke-linejoin="round" filter="url(#b0_9)"/>
<g filter="url(#b1)"><ellipse cx="131" cy="214" rx="3" ry="2.5" fill="rgb(178,178,178)"/></g>
<g filter="url(#b1)"><ellipse cx="128" cy="223" rx="2.5" ry="2" fill="rgb(178,178,178)"/></g>
<g filter="url(#b1)"><ellipse cx="138" cy="209" rx="2.5" ry="2" fill="rgb(178,178,178)"/></g>
<g filter="url(#b1_2)"><ellipse cx="108.5" cy="228.5" rx="3" ry="2.5" fill="rgb(76,76,76)"/></g>
</g>
</g>
<polyline points="190.6,37.4 193.5,40.8 198.3,43.6 200.9,47.5 202.4,51.4 204.8,53 204.9,55" fill="none" stroke="#fff" stroke-width="1.15" stroke-linecap="round" stroke-linejoin="round"/>
<polygon points="183.4,25.8 186,26.4 189.6,27.8 189.3,28.7 186,27.7 183.6,26.7" fill="#440154"/>
<polygon points="186.9,30.8 188.6,31.2 190.6,34 190.9,35.6 189.5,35 187.4,32.6" fill="#440154"/>
<polygon points="189.4,58.6 194,57.6 193.6,59.8 190,60.6" fill="#fff"/>
<polygon points="20.4,187.5 22.6,186.7 23.1,183.6 25,181.6 27.5,180.1 30,179.2 27.9,181 26.4,183.4 25.9,186 23.6,187.9 21,188.3" fill="#fff"/>
<polyline points="27.6,191.7 29.4,191 31,192.7 32.4,194" fill="none" stroke="#fff" stroke-width="0.8" stroke-linecap="round" stroke-linejoin="round"/>
</g>
<text x="648.8" y="779" font-size="15.2" font-style="italic" fill="#111">B. montanus</text>
<g transform="translate(805.5 598.3)">
<g clip-path="url(#ib)">
<rect x="10" y="18" width="386" height="230" fill="#440154"/>
<g filter="url(#hf8)">
<rect x="-10" y="-10" width="420" height="280" fill="#000"/>
<polygon points="16,90 60,80 120,82 185,86 284,96 286,120 240,140 222,186 200,212 172,230 120,232 98,245 80,230 24,223 14,186 28,150" fill="rgb(9,9,9)" filter="url(#b6)"/>
<polygon points="60,100 80,88 120,86 160,90 185,88 200,96 220,104 215,140 205,185 195,200 180,190 175,160 150,150 120,150 90,140 65,125" fill="rgb(43,43,43)" filter="url(#b6)"/>
<g filter="url(#b3)"><ellipse cx="104" cy="106" rx="11" ry="8" fill="rgb(76,76,76)"/></g>
<polyline points="95,140 120,135 140,128" fill="none" stroke="rgb(51,51,51)" stroke-width="8" stroke-linecap="round" stroke-linejoin="round" filter="url(#b3)"/>
<polygon points="192,26 260,22 320,34 392,42 392,76 350,96 300,84 284,96 270,98 230,94 196,90 188,70" fill="rgb(36,36,36)" filter="url(#b5)"/>
<polygon points="190,40 210,45 235,70 240,92 200,90 186,84" fill="rgb(10,10,10)" filter="url(#b4)"/>
<g filter="url(#b3)"><ellipse cx="206" cy="32" rx="13" ry="6" fill="rgb(56,56,56)"/></g>
<g filter="url(#b5)"><ellipse cx="245" cy="60" rx="25" ry="18" fill="rgb(38,38,38)"/></g>
<g filter="url(#b4)"><ellipse cx="262" cy="40" rx="30" ry="12" fill="rgb(15,15,15)"/></g>
<polygon points="296,30 318,30 321,58 305,62 296,50" fill="rgb(71,71,71)" filter="url(#b3)"/>
<g filter="url(#b4)"><ellipse cx="352" cy="55" rx="26" ry="16" fill="rgb(13,13,13)"/></g>
<polyline points="372,48 386,50 389,64 384,72" fill="none" stroke="rgb(64,64,64)" stroke-width="4" stroke-linecap="round" stroke-linejoin="round" filter="url(#b2)"/>
<polygon points="174,118 195,122 214,112 232,116 250,112 256,124 245,136 232,142 222,158 212,176 204,184 196,184 188,170 184,150 176,134" fill="rgb(140,140,140)" filter="url(#b2_5)"/>
<polygon points="162.5,104 178,99 194.5,98 207,103 214.5,110 205,118 194.5,122 178.5,120 170,112" fill="rgb(242,242,242)" filter="url(#b2)"/>
<g filter="url(#b2)"><ellipse cx="230" cy="124" rx="9" ry="5" fill="rgb(38,38,38)"/></g>
<g filter="url(#b2_5)"><ellipse cx="200" cy="150" rx="7" ry="9" fill="rgb(64,64,64)"/></g>
<polyline points="254,128 244,136 234,142 226,152 216,166 210,178" fill="none" stroke="rgb(230,230,230)" stroke-width="4.5" stroke-linecap="round" stroke-linejoin="round" filter="url(#b1_5)"/>
<polygon points="255,88 270,72 300,58 322,58 318,72 296,84 284,96 284,110 270,108 258,100" fill="rgb(128,128,128)" filter="url(#b3)"/>
<polygon points="244,118 252,112 266,114 278,112 280,122 270,130 256,134 246,128" fill="rgb(235,235,235)" filter="url(#b2)"/>
<polygon points="195,93 230,96 272,100 272,110 250,112 225,106 200,100" fill="rgb(10,10,10)" filter="url(#b1_8)"/>
<polyline points="205,107 222,112 238,117 250,119" fill="none" stroke="rgb(217,217,217)" stroke-width="6.5" stroke-linecap="round" stroke-linejoin="round" filter="url(#b1_8)"/>
<polyline points="264,94 276,84 290,74 304,66 316,62" fill="none" stroke="rgb(230,230,230)" stroke-width="9" stroke-linecap="round" stroke-linejoin="round" filter="url(#b2)"/>
<polyline points="270,92 278,98 282,108" fill="none" stroke="rgb(230,230,230)" stroke-width="6" stroke-linecap="round" stroke-linejoin="round" filter="url(#b2)"/>
<polygon points="318,80 340,78 368,72 389,70 388,78 372,84 352,94 336,92 322,88" fill="rgb(153,153,153)" filter="url(#b2)"/>
<polyline points="366,78 380,75 389,73" fill="none" stroke="rgb(230,230,230)" stroke-width="4" stroke-linecap="round" stroke-linejoin="round" filter="url(#b1_5)"/>
</g>
</g>
<polyline points="190.6,37.4 193.5,40.8 198.3,43.6 200.9,47.5 202.4,51.4 204.8,53 204.9,55" fill="none" stroke="#fff" stroke-width="1.15" stroke-linecap="round" stroke-linejoin="round"/>
<polygon points="183.4,25.8 186,26.4 189.6,27.8 189.3,28.7 186,27.7 183.6,26.7" fill="#440154"/>
<polygon points="186.9,30.8 188.6,31.2 190.6,34 190.9,35.6 189.5,35 187.4,32.6" fill="#440154"/>
<polygon points="189.4,58.6 194,57.6 193.6,59.8 190,60.6" fill="#fff"/>
<polygon points="20.4,187.5 22.6,186.7 23.1,183.6 25,181.6 27.5,180.1 30,179.2 27.9,181 26.4,183.4 25.9,186 23.6,187.9 21,188.3" fill="#fff"/>
<polyline points="27.6,191.7 29.4,191 31,192.7 32.4,194" fill="none" stroke="#fff" stroke-width="0.8" stroke-linecap="round" stroke-linejoin="round"/>
</g>
<text x="1050.5" y="779" font-size="15.2" font-style="italic" fill="#111">B. occitanus</text>
<text x="2.6" y="24.8" font-size="34" fill="#000">A</text>
<text x="3.3" y="972" font-size="33.5" fill="#000">B</text>
<text x="721.6" y="971.8" font-size="34.3" fill="#000">C</text>
<rect x="497.8" y="884.4" width="198.8" height="12.2" fill="url(#vg)" stroke="#222" stroke-width="0.7"/>
<text x="491.3" y="878.1" font-size="20.3" text-anchor="middle" fill="#000">0</text>
<text x="702.4" y="878.1" font-size="20.3" text-anchor="middle" fill="#000">1</text>
<text x="597.8" y="925.8" font-size="20.2" text-anchor="middle" fill="#000">habitat suitability</text>
<rect x="39.6" y="975.8" width="589.8" height="589.7" fill="none" stroke="#6c6c6c" stroke-width="1.4"/>
<line x1="155.1" y1="1565.5" x2="155.1" y2="1569.8" stroke="#333" stroke-width="1.4"/>
<text x="155.1" y="1582.5" font-size="12.5" text-anchor="middle" fill="#4d4d4d">-1</text>
<line x1="330.75" y1="1565.5" x2="330.75" y2="1569.8" stroke="#333" stroke-width="1.4"/>
<text x="330.75" y="1582.5" font-size="12.5" text-anchor="middle" fill="#4d4d4d">0</text>
<line x1="506.4" y1="1565.5" x2="506.4" y2="1569.8" stroke="#333" stroke-width="1.4"/>
<text x="506.4" y="1582.5" font-size="12.5" text-anchor="middle" fill="#4d4d4d">1</text>
<line x1="35.3" y1="1091.7" x2="39.6" y2="1091.7" stroke="#333" stroke-width="1.4"/>
<text x="31.6" y="1096.2" font-size="12.5" text-anchor="end" fill="#4d4d4d">1</text>
<line x1="35.3" y1="1219.4" x2="39.6" y2="1219.4" stroke="#333" stroke-width="1.4"/>
<text x="31.6" y="1223.9" font-size="12.5" text-anchor="end" fill="#4d4d4d">0</text>
<line x1="35.3" y1="1347.1" x2="39.6" y2="1347.1" stroke="#333" stroke-width="1.4"/>
<text x="31.6" y="1351.6" font-size="12.5" text-anchor="end" fill="#4d4d4d">-1</text>
<line x1="35.3" y1="1474.8" x2="39.6" y2="1474.8" stroke="#333" stroke-width="1.4"/>
<text x="31.6" y="1479.3" font-size="12.5" text-anchor="end" fill="#4d4d4d">-2</text>
<text x="334.5" y="1601" font-size="16" text-anchor="middle" fill="#111">CCA1 (31.4% variance)</text>
<text transform="translate(12.6 1270.5) rotate(-90)" font-size="16" text-anchor="middle" fill="#111">CCA2 (21.8% variance)</text>
<line x1="330" y1="1219.4" x2="82.2" y2="1175.4" stroke="#000" stroke-width="1.4"/>
<polyline points="89.32,1173.37 82.2,1175.4 88.18,1179.76" fill="none" stroke="#000" stroke-width="1.4" stroke-linejoin="miter"/>
<line x1="330" y1="1219.4" x2="542.5" y2="1179.5" stroke="#000" stroke-width="1.4"/>
<polyline points="536.56,1183.92 542.5,1179.5 535.36,1177.54" fill="none" stroke="#000" stroke-width="1.4" stroke-linejoin="miter"/>
<line x1="330" y1="1219.4" x2="282.5" y2="1321.9" stroke="#000" stroke-width="1.4"/>
<polyline points="282.35,1314.5 282.5,1321.9 288.24,1317.23" fill="none" stroke="#000" stroke-width="1.4" stroke-linejoin="miter"/>
<line x1="330" y1="1219.4" x2="327.5" y2="1369.4" stroke="#000" stroke-width="1.4"/>
<polyline points="324.37,1362.7 327.5,1369.4 330.85,1362.8" fill="none" stroke="#000" stroke-width="1.4" stroke-linejoin="miter"/>
<line x1="330" y1="1219.4" x2="401" y2="1350.6" stroke="#000" stroke-width="1.4"/>
<polyline points="394.98,1346.29 401,1350.6 400.69,1343.21" fill="none" stroke="#000" stroke-width="1.4" stroke-linejoin="miter"/>
<line x1="330" y1="1219.4" x2="296.9" y2="1132.5" stroke="#000" stroke-width="1.4" stroke-dasharray="5.6 3.9"/>
<polyline points="300.95,1136.3 296.9,1132.5 296.4,1138.03" fill="none" stroke="#000" stroke-width="1.4" stroke-linejoin="miter"/>
<line x1="330" y1="1219.4" x2="268.1" y2="1173.75" stroke="#000" stroke-width="1.4" stroke-dasharray="5.6 3.9"/>
<polyline points="273.56,1174.75 268.1,1173.75 270.67,1178.67" fill="none" stroke="#000" stroke-width="1.4" stroke-linejoin="miter"/>
<line x1="330" y1="1219.4" x2="259.4" y2="1206.25" stroke="#000" stroke-width="1.4" stroke-dasharray="5.6 3.9"/>
<polyline points="264.75,1204.77 259.4,1206.25 263.86,1209.56" fill="none" stroke="#000" stroke-width="1.4" stroke-linejoin="miter"/>
<line x1="330" y1="1219.4" x2="296.9" y2="1248.75" stroke="#000" stroke-width="1.4" stroke-dasharray="5.6 3.9"/>
<polyline points="299.02,1243.62 296.9,1248.75 302.25,1247.26" fill="none" stroke="#000" stroke-width="1.4" stroke-linejoin="miter"/>
<line x1="330" y1="1219.4" x2="254" y2="1264.75" stroke="#000" stroke-width="1.4" stroke-dasharray="5.6 3.9"/>
<polyline points="257.04,1260.1 254,1264.75 259.53,1264.28" fill="none" stroke="#000" stroke-width="1.4" stroke-linejoin="miter"/>
<line x1="330" y1="1219.4" x2="348.75" y2="1241.25" stroke="#000" stroke-width="1.4" stroke-dasharray="5.6 3.9"/>
<polyline points="343.66,1239.05 348.75,1241.25 347.35,1235.88" fill="none" stroke="#000" stroke-width="1.4" stroke-linejoin="miter"/>
<line x1="330" y1="1219.4" x2="395" y2="1303.1" stroke="#000" stroke-width="1.4" stroke-dasharray="5.6 3.9"/>
<polyline points="390.02,1300.65 395,1303.1 393.86,1297.67" fill="none" stroke="#000" stroke-width="1.4" stroke-linejoin="miter"/>
<line x1="330" y1="1219.4" x2="430" y2="1219.4" stroke="#000" stroke-width="1.4" stroke-dasharray="5.6 3.9"/>
<polyline points="425.01,1221.83 430,1219.4 425.01,1216.97" fill="none" stroke="#000" stroke-width="1.4" stroke-linejoin="miter"/>
<text x="42.6" y="1178.5" font-size="15.3" fill="#111">bio15</text>
<text x="550.3" y="1181.2" font-size="15.3" fill="#111">bio14</text>
<text x="247.1" y="1336.5" font-size="15.3" fill="#111">elevation</text>
<text x="313.75" y="1383.75" font-size="15.3" fill="#111">bio2</text>
<text x="396.5" y="1367.75" font-size="15.3" fill="#111">bio4</text>
<text x="276.5" y="1126.25" font-size="15.3" fill="#111">bio12</text>
<text x="239.6" y="1169.4" font-size="15.3" fill="#111">bio1</text>
<text x="241.4" y="1198.4" font-size="15.3" fill="#111">sand</text>
<text x="264.4" y="1260.25" font-size="15.3" fill="#111">coarse</text>
<text x="224" y="1277.5" font-size="15.3" fill="#111">bio3</text>
<text x="353.8" y="1238.1" font-size="15.3" fill="#111">clay</text>
<text x="398.4" y="1314.4" font-size="15.3" fill="#111">pH</text>
<text x="435.1" y="1222.5" font-size="15.3" fill="#111">silt</text>
<circle cx="152.8" cy="1002.4" r="5.6" fill="#00AEEF"/>
<text x="167" y="1007.7" font-size="15.1" font-style="italic" text-anchor="start" fill="#111">B. delafuentei</text>
<circle cx="79.2" cy="1079.2" r="5.6" fill="#FF9000"/>
<text x="93.45" y="1083.9" font-size="15.1" font-style="italic" text-anchor="start" fill="#111">B. ibericus</text>
<circle cx="65.7" cy="1102.3" r="5.6" fill="#FFF200"/>
<text x="81.4" y="1107.2" font-size="15.1" font-style="italic" text-anchor="start" fill="#111">B. elongatus</text>
<circle cx="343.5" cy="1174.3" r="5.6" fill="#A000FF"/>
<text x="358.1" y="1178.9" font-size="15.1" font-style="italic" text-anchor="start" fill="#111">B. halius</text>
<circle cx="603" cy="1122.8" r="5.6" fill="#00FF0A"/>
<text x="591.9" y="1127" font-size="15.1" font-style="italic" text-anchor="end" fill="#111">B. occitanus</text>
<circle cx="328.3" cy="1407.8" r="5.6" fill="#00FAB4"/>
<text x="344.4" y="1412" font-size="15.1" font-style="italic" text-anchor="start" fill="#111">B. iaspis</text>
<circle cx="439.25" cy="1473.5" r="5.6" fill="#FF00BE"/>
<text x="452.85" y="1478.8" font-size="15.1" font-style="italic" text-anchor="start" fill="#111">B. manchego</text>
<circle cx="207.3" cy="1485.2" r="5.6" fill="#FF0022"/>
<text x="221.7" y="1490.1" font-size="15.1" font-style="italic" text-anchor="start" fill="#111">B. garcialorcai</text>
<circle cx="208.3" cy="1539.6" r="5.6" fill="#7D2A06"/>
<text x="221.7" y="1544.1" font-size="15.1" font-style="italic" text-anchor="start" fill="#111">B. montanus</text>
<rect x="774.4" y="975.6" width="355.2" height="290.7" fill="none" stroke="#6c6c6c" stroke-width="1.4"/>
<line x1="797" y1="1266.3" x2="797" y2="1270.6" stroke="#333" stroke-width="1.4"/>
<line x1="835.72" y1="1266.3" x2="835.72" y2="1270.6" stroke="#333" stroke-width="1.4"/>
<line x1="874.44" y1="1266.3" x2="874.44" y2="1270.6" stroke="#333" stroke-width="1.4"/>
<line x1="913.16" y1="1266.3" x2="913.16" y2="1270.6" stroke="#333" stroke-width="1.4"/>
<line x1="951.88" y1="1266.3" x2="951.88" y2="1270.6" stroke="#333" stroke-width="1.4"/>
<line x1="990.6" y1="1266.3" x2="990.6" y2="1270.6" stroke="#333" stroke-width="1.4"/>
<line x1="1029.32" y1="1266.3" x2="1029.32" y2="1270.6" stroke="#333" stroke-width="1.4"/>
<line x1="1068.04" y1="1266.3" x2="1068.04" y2="1270.6" stroke="#333" stroke-width="1.4"/>
<line x1="1106.76" y1="1266.3" x2="1106.76" y2="1270.6" stroke="#333" stroke-width="1.4"/>
<rect x="774.4" y="1280.2" width="355.2" height="285.5" fill="none" stroke="#6c6c6c" stroke-width="1.4"/>
<line x1="797" y1="1565.7" x2="797" y2="1570" stroke="#333" stroke-width="1.4"/>
<line x1="835.72" y1="1565.7" x2="835.72" y2="1570" stroke="#333" stroke-width="1.4"/>
<line x1="874.44" y1="1565.7" x2="874.44" y2="1570" stroke="#333" stroke-width="1.4"/>
<line x1="913.16" y1="1565.7" x2="913.16" y2="1570" stroke="#333" stroke-width="1.4"/>
<line x1="951.88" y1="1565.7" x2="951.88" y2="1570" stroke="#333" stroke-width="1.4"/>
<line x1="990.6" y1="1565.7" x2="990.6" y2="1570" stroke="#333" stroke-width="1.4"/>
<line x1="1029.32" y1="1565.7" x2="1029.32" y2="1570" stroke="#333" stroke-width="1.4"/>
<line x1="1068.04" y1="1565.7" x2="1068.04" y2="1570" stroke="#333" stroke-width="1.4"/>
<line x1="1106.76" y1="1565.7" x2="1106.76" y2="1570" stroke="#333" stroke-width="1.4"/>
<line x1="797" y1="1100.5" x2="797" y2="1160.5" stroke="#333" stroke-width="1.5"/>
<line x1="797" y1="1206.7" x2="797" y2="1249.3" stroke="#333" stroke-width="1.5"/>
<rect x="782.52" y="1160.5" width="28.96" height="46.2" fill="#00AEEF" stroke="#333" stroke-width="1.5"/>
<line x1="782.52" y1="1192.8" x2="811.48" y2="1192.8" stroke="#333" stroke-width="2.8"/>
<line x1="835.72" y1="1075.5" x2="835.72" y2="1093.3" stroke="#333" stroke-width="1.5"/>
<line x1="835.72" y1="1128.8" x2="835.72" y2="1174.6" stroke="#333" stroke-width="1.5"/>
<rect x="821.24" y="1093.3" width="28.96" height="35.5" fill="#FFF200" stroke="#333" stroke-width="1.5"/>
<line x1="821.24" y1="1112" x2="850.2" y2="1112" stroke="#333" stroke-width="2.8"/>
<circle cx="835.72" cy="1024.3" r="3.3" fill="#333"/>
<circle cx="835.72" cy="1212.3" r="3.3" fill="#333"/>
<line x1="874.44" y1="1118.3" x2="874.44" y2="1136.2" stroke="#333" stroke-width="1.5"/>
<line x1="874.44" y1="1187" x2="874.44" y2="1226.8" stroke="#333" stroke-width="1.5"/>
<rect x="859.96" y="1136.2" width="28.96" height="50.8" fill="#FF0022" stroke="#333" stroke-width="1.5"/>
<line x1="859.96" y1="1161.3" x2="888.92" y2="1161.3" stroke="#333" stroke-width="2.8"/>
<line x1="913.16" y1="1039.5" x2="913.16" y2="1096.5" stroke="#333" stroke-width="1.5"/>
<line x1="913.16" y1="1158.7" x2="913.16" y2="1226.8" stroke="#333" stroke-width="1.5"/>
<rect x="898.68" y="1096.5" width="28.96" height="62.2" fill="#A000FF" stroke="#333" stroke-width="1.5"/>
<line x1="898.68" y1="1130.3" x2="927.64" y2="1130.3" stroke="#333" stroke-width="2.8"/>
<line x1="951.88" y1="1166" x2="951.88" y2="1193.4" stroke="#333" stroke-width="1.5"/>
<line x1="951.88" y1="1214.1" x2="951.88" y2="1241.8" stroke="#333" stroke-width="1.5"/>
<rect x="937.4" y="1193.4" width="28.96" height="20.7" fill="#00FAB4" stroke="#333" stroke-width="1.5"/>
<line x1="937.4" y1="1203" x2="966.36" y2="1203" stroke="#333" stroke-width="2.8"/>
<circle cx="951.88" cy="1163" r="3.3" fill="#333"/>
<circle cx="951.88" cy="1252.2" r="3.3" fill="#333"/>
<circle cx="951.88" cy="1254" r="3.3" fill="#333"/>
<line x1="990.6" y1="1012.5" x2="990.6" y2="1056.1" stroke="#333" stroke-width="1.5"/>
<line x1="990.6" y1="1118.4" x2="990.6" y2="1211" stroke="#333" stroke-width="1.5"/>
<rect x="976.12" y="1056.1" width="28.96" height="62.3" fill="#FF9000" stroke="#333" stroke-width="1.5"/>
<line x1="976.12" y1="1071.9" x2="1005.08" y2="1071.9" stroke="#333" stroke-width="2.8"/>
<circle cx="990.6" cy="1212.3" r="3.3" fill="#333"/>
<line x1="1029.32" y1="1132" x2="1029.32" y2="1171" stroke="#333" stroke-width="1.5"/>
<line x1="1029.32" y1="1205" x2="1029.32" y2="1235.8" stroke="#333" stroke-width="1.5"/>
<rect x="1014.84" y="1171" width="28.96" height="34" fill="#FF00BE" stroke="#333" stroke-width="1.5"/>
<line x1="1014.84" y1="1183.6" x2="1043.8" y2="1183.6" stroke="#333" stroke-width="2.8"/>
<circle cx="1029.32" cy="1085.4" r="3.3" fill="#333"/>
<line x1="1068.04" y1="1120" x2="1068.04" y2="1130.6" stroke="#333" stroke-width="1.5"/>
<line x1="1068.04" y1="1185.4" x2="1068.04" y2="1223.9" stroke="#333" stroke-width="1.5"/>
<rect x="1053.56" y="1130.6" width="28.96" height="54.8" fill="#7D2A06" stroke="#333" stroke-width="1.5"/>
<line x1="1053.56" y1="1144.3" x2="1082.52" y2="1144.3" stroke="#333" stroke-width="2.8"/>
<line x1="1106.76" y1="988.4" x2="1106.76" y2="1068.8" stroke="#333" stroke-width="1.5"/>
<line x1="1106.76" y1="1154.3" x2="1106.76" y2="1238.9" stroke="#333" stroke-width="1.5"/>
<rect x="1092.28" y="1068.8" width="28.96" height="85.5" fill="#00FF0A" stroke="#333" stroke-width="1.5"/>
<line x1="1092.28" y1="1105.3" x2="1121.24" y2="1105.3" stroke="#333" stroke-width="2.8"/>
<line x1="797" y1="1494.8" x2="797" y2="1496" stroke="#333" stroke-width="1.5"/>
<line x1="797" y1="1503" x2="797" y2="1508.5" stroke="#333" stroke-width="1.5"/>
<rect x="782.52" y="1496" width="28.96" height="7" fill="#00AEEF" stroke="#333" stroke-width="1.5"/>
<line x1="782.52" y1="1499.5" x2="811.48" y2="1499.5" stroke="#333" stroke-width="2.8"/>
<circle cx="797" cy="1395.3" r="3.3" fill="#333"/>
<circle cx="797" cy="1420.2" r="3.3" fill="#333"/>
<circle cx="797" cy="1441.8" r="3.3" fill="#333"/>
<line x1="835.72" y1="1367" x2="835.72" y2="1381.8" stroke="#333" stroke-width="1.5"/>
<line x1="835.72" y1="1438.5" x2="835.72" y2="1493.5" stroke="#333" stroke-width="1.5"/>
<rect x="821.24" y="1381.8" width="28.96" height="56.7" fill="#FFF200" stroke="#333" stroke-width="1.5"/>
<line x1="821.24" y1="1422.3" x2="850.2" y2="1422.3" stroke="#333" stroke-width="2.8"/>
<line x1="874.44" y1="1357.3" x2="874.44" y2="1381.8" stroke="#333" stroke-width="1.5"/>
<line x1="874.44" y1="1414" x2="874.44" y2="1447.9" stroke="#333" stroke-width="1.5"/>
<rect x="859.96" y="1381.8" width="28.96" height="32.2" fill="#FF0022" stroke="#333" stroke-width="1.5"/>
<line x1="859.96" y1="1403" x2="888.92" y2="1403" stroke="#333" stroke-width="2.8"/>
<circle cx="874.44" cy="1463.3" r="3.3" fill="#333"/>
<line x1="913.16" y1="1293.3" x2="913.16" y2="1346.3" stroke="#333" stroke-width="1.5"/>
<line x1="913.16" y1="1419.2" x2="913.16" y2="1515.5" stroke="#333" stroke-width="1.5"/>
<rect x="898.68" y="1346.3" width="28.96" height="72.9" fill="#A000FF" stroke="#333" stroke-width="1.5"/>
<line x1="898.68" y1="1377" x2="927.64" y2="1377" stroke="#333" stroke-width="2.8"/>
<circle cx="913.16" cy="1541.3" r="3.3" fill="#333"/>
<line x1="951.88" y1="1393.8" x2="951.88" y2="1471.1" stroke="#333" stroke-width="1.5"/>
<line x1="951.88" y1="1528.6" x2="951.88" y2="1545.3" stroke="#333" stroke-width="1.5"/>
<rect x="937.4" y="1471.1" width="28.96" height="57.5" fill="#00FAB4" stroke="#333" stroke-width="1.5"/>
<line x1="937.4" y1="1518.4" x2="966.36" y2="1518.4" stroke="#333" stroke-width="2.8"/>
<line x1="990.6" y1="1361" x2="990.6" y2="1390.7" stroke="#333" stroke-width="1.5"/>
<line x1="990.6" y1="1431.6" x2="990.6" y2="1451.9" stroke="#333" stroke-width="1.5"/>
<rect x="976.12" y="1390.7" width="28.96" height="40.9" fill="#FF9000" stroke="#333" stroke-width="1.5"/>
<line x1="976.12" y1="1410.3" x2="1005.08" y2="1410.3" stroke="#333" stroke-width="2.8"/>
<circle cx="990.6" cy="1534.4" r="3.3" fill="#333"/>
<line x1="1029.32" y1="1324.8" x2="1029.32" y2="1351.6" stroke="#333" stroke-width="1.5"/>
<line x1="1029.32" y1="1471.6" x2="1029.32" y2="1536.8" stroke="#333" stroke-width="1.5"/>
<rect x="1014.84" y="1351.6" width="28.96" height="120" fill="#FF00BE" stroke="#333" stroke-width="1.5"/>
<line x1="1014.84" y1="1395.7" x2="1043.8" y2="1395.7" stroke="#333" stroke-width="2.8"/>
<line x1="1068.04" y1="1390.3" x2="1068.04" y2="1404.1" stroke="#333" stroke-width="1.5"/>
<line x1="1068.04" y1="1456" x2="1068.04" y2="1459" stroke="#333" stroke-width="1.5"/>
<rect x="1053.56" y="1404.1" width="28.96" height="51.9" fill="#7D2A06" stroke="#333" stroke-width="1.5"/>
<line x1="1053.56" y1="1446.4" x2="1082.52" y2="1446.4" stroke="#333" stroke-width="2.8"/>
<line x1="1106.76" y1="1422.1" x2="1106.76" y2="1465.2" stroke="#333" stroke-width="1.5"/>
<line x1="1106.76" y1="1521.1" x2="1106.76" y2="1553.5" stroke="#333" stroke-width="1.5"/>
<rect x="1092.28" y="1465.2" width="28.96" height="55.9" fill="#00FF0A" stroke="#333" stroke-width="1.5"/>
<line x1="1092.28" y1="1492.9" x2="1121.24" y2="1492.9" stroke="#333" stroke-width="2.8"/>
<line x1="770.1" y1="1029.6" x2="774.4" y2="1029.6" stroke="#333" stroke-width="1.4"/>
<text x="766.6" y="1034.1" font-size="12.5" text-anchor="end" fill="#4d4d4d">200</text>
<line x1="770.1" y1="1104.5" x2="774.4" y2="1104.5" stroke="#333" stroke-width="1.4"/>
<text x="766.6" y="1109" font-size="12.5" text-anchor="end" fill="#4d4d4d">150</text>
<line x1="770.1" y1="1179.3" x2="774.4" y2="1179.3" stroke="#333" stroke-width="1.4"/>
<text x="766.6" y="1183.8" font-size="12.5" text-anchor="end" fill="#4d4d4d">100</text>
<line x1="770.1" y1="1253.8" x2="774.4" y2="1253.8" stroke="#333" stroke-width="1.4"/>
<text x="766.6" y="1258.3" font-size="12.5" text-anchor="end" fill="#4d4d4d">50</text>
<line x1="770.1" y1="1318.3" x2="774.4" y2="1318.3" stroke="#333" stroke-width="1.4"/>
<text x="766.6" y="1322.8" font-size="12.5" text-anchor="end" fill="#4d4d4d">20</text>
<line x1="770.1" y1="1387" x2="774.4" y2="1387" stroke="#333" stroke-width="1.4"/>
<text x="766.6" y="1391.5" font-size="12.5" text-anchor="end" fill="#4d4d4d">15</text>
<line x1="770.1" y1="1455.5" x2="774.4" y2="1455.5" stroke="#333" stroke-width="1.4"/>
<text x="766.6" y="1460" font-size="12.5" text-anchor="end" fill="#4d4d4d">10</text>
<line x1="770.1" y1="1524" x2="774.4" y2="1524" stroke="#333" stroke-width="1.4"/>
<text x="766.6" y="1528.5" font-size="12.5" text-anchor="end" fill="#4d4d4d">5</text>
<text transform="translate(738.3 1121) rotate(-90)" font-size="16" text-anchor="middle" fill="#111">NDVI</text>
<text transform="translate(746 1421) rotate(-90)" font-size="16" text-anchor="middle" fill="#111" word-spacing="0.8">relative humidity (%)</text>
<text x="796.7" y="1586.8" font-size="15.7" font-style="italic" text-anchor="middle" fill="#1a1a1a">del</text>
<text x="835.42" y="1586.8" font-size="15.7" font-style="italic" text-anchor="middle" fill="#1a1a1a">elo</text>
<text x="874.14" y="1586.8" font-size="15.7" font-style="italic" text-anchor="middle" fill="#1a1a1a">gar</text>
<text x="912.86" y="1586.8" font-size="15.7" font-style="italic" text-anchor="middle" fill="#1a1a1a">hal</text>
<text x="951.58" y="1586.8" font-size="15.7" font-style="italic" text-anchor="middle" fill="#1a1a1a">ias</text>
<text x="990.3" y="1586.8" font-size="15.7" font-style="italic" text-anchor="middle" fill="#1a1a1a">ibe</text>
<text x="1029.02" y="1586.8" font-size="15.7" font-style="italic" text-anchor="middle" fill="#1a1a1a">man</text>
<text x="1067.74" y="1586.8" font-size="15.7" font-style="italic" text-anchor="middle" fill="#1a1a1a">mon</text>
<text x="1106.46" y="1586.8" font-size="15.7" font-style="italic" text-anchor="middle" fill="#1a1a1a">occ</text>
</svg>
</body></html>
